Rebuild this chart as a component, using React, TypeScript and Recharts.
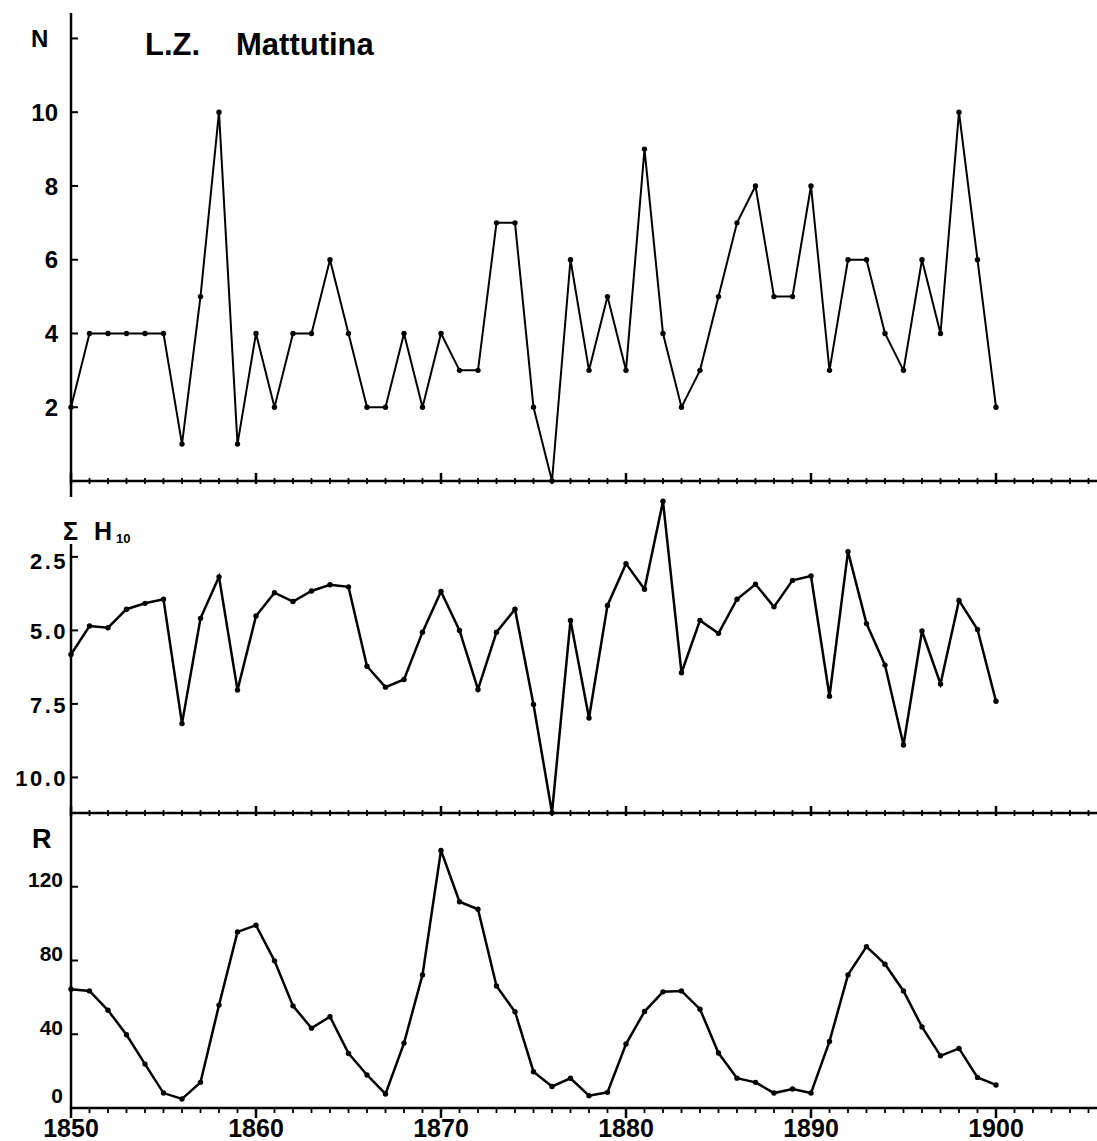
import React from 'react';
import { LineChart, Line, XAxis, YAxis } from 'recharts';

const years = [
  1850, 1851, 1852, 1853, 1854, 1855, 1856, 1857, 1858, 1859,
  1860, 1861, 1862, 1863, 1864, 1865, 1866, 1867, 1868, 1869,
  1870, 1871, 1872, 1873, 1874, 1875, 1876, 1877, 1878, 1879,
  1880, 1881, 1882, 1883, 1884, 1885, 1886, 1887, 1888, 1889,
  1890, 1891, 1892, 1893, 1894, 1895, 1896, 1897, 1898, 1899,
  1900,
];

const nValues = [
  2, 4, 4, 4, 4, 4, 1, 5, 10, 1,
  4, 2, 4, 4, 6, 4, 2, 2, 4, 2,
  4, 3, 3, 7, 7, 2, 0, 6, 3, 5,
  3, 9, 4, 2, 3, 5, 7, 8, 5, 5,
  8, 3, 6, 6, 4, 3, 6, 4, 10, 6,
  2,
];

const hValues = [
  5.82, 4.85, 4.91, 4.28, 4.08, 3.94, 8.17, 4.59, 3.18, 7.03,
  4.51, 3.72, 4.02, 3.66, 3.45, 3.52, 6.22, 6.93, 6.67, 5.06,
  3.68, 5.0, 7.01, 5.06, 4.28, 7.52, 11.2, 4.66, 7.98, 4.15,
  2.73, 3.6, 0.61, 6.44, 4.66, 5.1, 3.94, 3.43, 4.2, 3.3,
  3.15, 7.24, 2.32, 4.77, 6.18, 8.9, 5.02, 6.82, 3.98, 4.97,
  7.41,
];

const rValues = [
  64.4, 63.5, 53, 39.7, 23.8, 8.1, 4.9, 13.9, 55.8, 95.5,
  99.1, 79.8, 55.4, 43.3, 49.5, 29.6, 17.9, 7.6, 35.2, 72.2,
  139.7, 111.9, 107.8, 66.2, 52.2, 19.7, 11.7, 16.1, 6.7, 8.5,
  34.7, 52.3, 63, 63.5, 53.6, 29.8, 16.2, 13.9, 8.1, 10.3,
  8.1, 36.1, 72.2, 87.5, 78, 63.5, 44, 28.3, 32.3, 16.6,
  12.5,
];

const yearTicks = [
  1850, 1851, 1852, 1853, 1854, 1855, 1856, 1857, 1858, 1859,
  1860, 1861, 1862, 1863, 1864, 1865, 1866, 1867, 1868, 1869,
  1870, 1871, 1872, 1873, 1874, 1875, 1876, 1877, 1878, 1879,
  1880, 1881, 1882, 1883, 1884, 1885, 1886, 1887, 1888, 1889,
  1890, 1891, 1892, 1893, 1894, 1895, 1896, 1897, 1898, 1899,
  1900, 1901, 1902, 1903, 1904, 1905,
];
const decadeLabels = [1850, 1860, 1870, 1880, 1890, 1900];
const nTicks = [2, 4, 6, 8, 10, 12];
const nLabelled = [2, 4, 6, 8, 10];
const hTicks = [2.5, 5, 7.5, 10];
const rTicks = [0, 40, 80, 120];

const W = 1097;
const H = 1141;
const FONT = '"Liberation Sans", Arial, Helvetica, sans-serif';
const X_DOMAIN: [number, number] = [1850, 1905.46];

const nData = years.map((y, i) => ({ year: y, v: nValues[i] }));
const hData = years.map((y, i) => ({ year: y, v: hValues[i] }));
const rData = years.map((y, i) => ({ year: y, v: rValues[i] }));

const makeXTick = (up: number, down: number, majorUp: number, majorDown: number, labels: boolean) =>
  (props: any) => {
    const { x, y, payload } = props;
    const v = payload.value as number;
    const major = v % 10 === 0 && v <= 1900;
    return (
      <g>
        <line
          x1={x}
          x2={x}
          y1={y - (major ? majorUp : up)}
          y2={y + (major ? majorDown : down)}
          stroke="#000"
          strokeWidth={major ? 2.5 : 1.8}
        />
        {labels && decadeLabels.includes(v) ? (
          <text
            x={x}
            y={y + 29}
            textAnchor="middle"
            fontFamily={FONT}
            fontWeight="bold"
            fontSize={25}
            fill="#000"
          >
            {v}
          </text>
        ) : null}
      </g>
    );
  };

const makeYTick = (
  labelled: number[],
  dxText: number,
  fontSize: number,
  fmt: (v: number) => string,
  dyOf: (v: number) => number,
  letterSpacing: number
) =>
  (props: any) => {
    const { x, y, payload } = props;
    const v = payload.value as number;
    return (
      <g>
        <line x1={x} x2={x + 7} y1={y} y2={y} stroke="#000" strokeWidth={2} />
        {labelled.includes(v) ? (
          <text
            x={x - dxText}
            y={y + dyOf(v)}
            dy="0.36em"
            textAnchor="end"
            fontFamily={FONT}
            fontWeight="bold"
            fontSize={fontSize}
            letterSpacing={letterSpacing}
            fill="#000"
          >
            {fmt(v)}
          </text>
        ) : null}
      </g>
    );
  };

const dotStyle = { r: 2.7, fill: '#000', stroke: '#000', strokeWidth: 0 };
const axisStroke = { stroke: '#000', strokeWidth: 2.5 };

const abs: React.CSSProperties = { position: 'absolute', left: 0, top: 0, width: W, height: H };

export default function App() {
  return (
    <div style={{ position: 'absolute', left: 0, top: 0, width: W, height: H, background: '#fff', overflow: 'hidden' }}>
      {/* Panel N */}
      <div style={abs}>
        <LineChart width={W} height={H} data={nData} margin={{ top: 13, right: 0, bottom: H - 481 - 20, left: 0 }}>
          <XAxis
            dataKey="year"
            type="number"
            domain={X_DOMAIN}
            ticks={yearTicks}
            interval={0}
            height={20}
            tickSize={0}
            tickMargin={0}
            tickLine={false}
            axisLine={axisStroke}
            tick={makeXTick(3, 3, 8, 3, false)}
          />
          <YAxis
            type="number"
            domain={[0, 12.69]}
            ticks={nTicks}
            interval={0}
            width={71}
            tickSize={0}
            tickMargin={0}
            tickLine={false}
            axisLine={axisStroke}
            tick={makeYTick(nLabelled, 13, 24, (v) => String(v), () => 0, 0)}
          />
          <Line dataKey="v" type="linear" stroke="#000" strokeWidth={2} dot={dotStyle} isAnimationActive={false} />
        </LineChart>
      </div>

      {/* Panel Sum H10 (inverted) */}
      <div style={abs}>
        <LineChart width={W} height={H} data={hData} margin={{ top: 481, right: 0, bottom: H - 813 - 20, left: 0 }}>
          <XAxis
            dataKey="year"
            type="number"
            domain={X_DOMAIN}
            ticks={yearTicks}
            interval={0}
            height={20}
            tickSize={0}
            tickMargin={0}
            tickLine={false}
            axisLine={axisStroke}
            tick={makeXTick(3, 3, 7, 3, false)}
          />
          <YAxis
            type="number"
            domain={[-0.08, 11.21]}
            reversed
            ticks={hTicks}
            interval={0}
            width={71}
            tickSize={0}
            tickMargin={0}
            tickLine={false}
            axisLine={axisStroke}
            tick={makeYTick(hTicks, 3, 22, (v) => v.toFixed(1), (v) => (v === 2.5 ? 4 : 1), 2.5)}
          />
          <Line dataKey="v" type="linear" stroke="#000" strokeWidth={2.5} dot={dotStyle} isAnimationActive={false} />
        </LineChart>
      </div>

      {/* Panel R */}
      <div style={abs}>
        <LineChart width={W} height={H} data={rData} margin={{ top: 813, right: 0, bottom: H - 1108 - 32, left: 0 }}>
          <XAxis
            dataKey="year"
            type="number"
            domain={X_DOMAIN}
            ticks={yearTicks}
            interval={0}
            height={32}
            tickSize={0}
            tickMargin={0}
            tickLine={false}
            axisLine={axisStroke}
            tick={makeXTick(1, 5, 1, 10, true)}
          />
          <YAxis
            type="number"
            domain={[0, 160]}
            ticks={rTicks}
            interval={0}
            width={71}
            tickSize={0}
            tickMargin={0}
            tickLine={false}
            axisLine={axisStroke}
            tick={makeYTick(rTicks, 8, 21, (v) => String(v), (v) => (v === 0 ? -13 : -7), 0)}
          />
          <Line dataKey="v" type="linear" stroke="#000" strokeWidth={2.5} dot={dotStyle} isAnimationActive={false} />
        </LineChart>
      </div>

      {/* Labels */}
      <svg width={W} height={H} style={{ position: 'absolute', left: 0, top: 0, pointerEvents: 'none' }}>
        <text x={31} y={47} fontFamily={FONT} fontWeight="bold" fontSize={24} fill="#000">N</text>
        <text x={145} y={55} fontFamily={FONT} fontWeight="bold" fontSize={31} fill="#000">L.Z.</text>
        <text x={236} y={55} fontFamily={FONT} fontWeight="bold" fontSize={31} fill="#000">Mattutina</text>
        <rect x={62} y={497} width={24} height={47} fill="#fff" />
        <text x={63} y={540} fontFamily={FONT} fontWeight="bold" fontSize={25} fill="#000">Σ</text>
        <text x={94} y={540} fontFamily={FONT} fontWeight="bold" fontSize={25} fill="#000">H</text>
        <text x={116} y={543} fontFamily={FONT} fontWeight="bold" fontSize={13} fill="#000">10</text>
        <text x={32} y={848} fontFamily={FONT} fontWeight="bold" fontSize={27} fill="#000">R</text>
      </svg>
    </div>
  );
}
